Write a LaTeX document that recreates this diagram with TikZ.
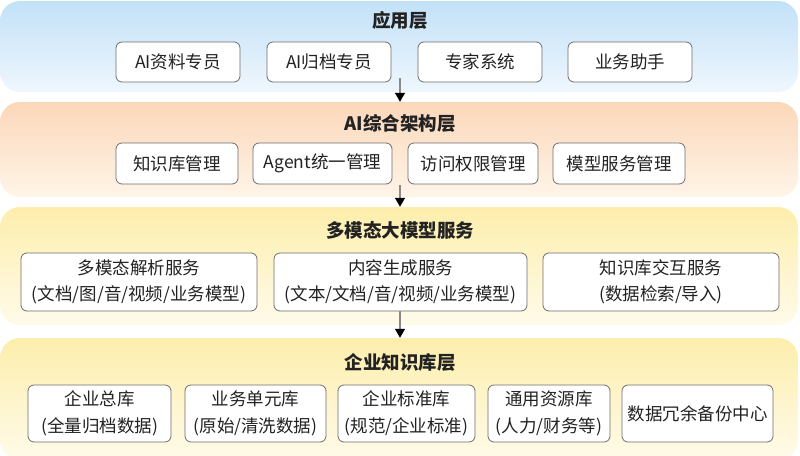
\documentclass[tikz,border=0pt]{standalone}
\usepackage{fontspec}
\setmainfont{Noto Sans CJK SC}
\usepackage{tikz}
\usetikzlibrary{arrows.meta}
\definecolor{ink}{HTML}{222222}
\definecolor{edge}{HTML}{6E6E6E}
\definecolor{arrowgrey}{HTML}{8A8A8A}
\definecolor{skytop}{HTML}{C2E1F8}
\definecolor{skybot}{HTML}{EFF7FD}
\definecolor{peachtop}{HTML}{FBD7BA}
\definecolor{peachbot}{HTML}{FFF5E8}
\definecolor{sandtop}{HTML}{FDEEAC}
\definecolor{sandbot}{HTML}{FFFBEA}

\begin{document}
\begin{tikzpicture}[x=1pt, y=-1pt,
      band/.style={rounded corners=20pt, minimum width=798pt, inner sep=0pt},
      head/.style={font=\fontsize{18.5}{22}\selectfont\bfseries, text=ink},
      item/.style={draw=edge, fill=white, rounded corners=6pt, line width=0.8pt,
                   font=\fontsize{17.5}{26.5}\selectfont, text=ink, align=center,
                   inner sep=0pt},
      a/.style={-{Triangle[length=9pt, width=10pt, color=black]},
                draw=arrowgrey, line width=1.2pt}]
    \useasboundingbox (0,0) rectangle (800,455);
    % layer bands
    \node[band, minimum height=91pt, top color=skytop, bottom color=skybot] (L1) at (399,46.5) {};
    \node[band, minimum height=95pt, top color=peachtop, bottom color=peachbot] (L2) at (399,149.5) {};
    \node[band, minimum height=118pt, top color=sandtop, bottom color=sandbot] (L3) at (399,266) {};
    \node[band, minimum height=122pt, top color=sandtop, bottom color=sandbot] (L4) at (399,399) {};
    % titles
    \node[head] (t1) at (400,20) {应用层};
    \node[head] (t2) at (400,123) {AI综合架构层};
    \node[head] (t3) at (400,230) {多模态大模型服务};
    \node[head] (t4) at (400,362) {企业知识库层};
    % application layer
    \node[item, minimum width=124pt, minimum height=40pt] (ap1) at (178,62) {AI资料专员};
    \node[item, minimum width=124pt, minimum height=40pt] (ap2) at (329,62) {AI归档专员};
    \node[item, minimum width=124pt, minimum height=40pt] (ap3) at (480,62) {专家系统};
    \node[item, minimum width=124pt, minimum height=40pt] (ap4) at (630,62) {业务助手};
    % AI architecture layer
    \node[item, minimum width=122pt, minimum height=41pt] (ar1) at (177,163.5) {知识库管理};
    \node[item, minimum width=139pt, minimum height=41pt] (ar2) at (322.5,163.5) {Agent统一管理};
    \node[item, minimum width=130pt, minimum height=41pt] (ar3) at (473,163.5) {访问权限管理};
    \node[item, minimum width=132pt, minimum height=41pt] (ar4) at (619,163.5) {模型服务管理};
    % model services
    \node[item, minimum width=236pt, minimum height=58pt] (ms1) at (139,282)
      {多模态解析服务\\(文档/图/音/视频/业务模型)};
    \node[item, minimum width=253pt, minimum height=58pt] (ms2) at (400.5,282)
      {内容生成服务\\(文本/文档/音/视频/业务模型)};
    \node[item, minimum width=236pt, minimum height=58pt] (ms3) at (661,282)
      {知识库交互服务\\(数据检索/导入)};
    % knowledge base layer
    \node[item, minimum width=143pt, minimum height=57pt] (kb1) at (99.5,413.5)
      {企业总库\\(全量归档数据)};
    \node[item, minimum width=141pt, minimum height=57pt] (kb2) at (255.5,413.5)
      {业务单元库\\(原始/清洗数据)};
    \node[item, minimum width=137pt, minimum height=57pt] (kb3) at (406.5,413.5)
      {企业标准库\\(规范/企业标准)};
    \node[item, minimum width=122pt, minimum height=57pt] (kb4) at (549,413.5)
      {通用资源库\\(人力/财务等)};
    \node[item, minimum width=151pt, minimum height=57pt] (kb5) at (697.5,413.5)
      {数据冗余备份中心};
    % flow between layers
    \draw[a] ([xshift=1pt, yshift=14pt]L1.south) -- ([xshift=1pt]L2.north);
    \draw[a] ([xshift=1pt, yshift=12pt]L2.south) -- ([xshift=1pt]L3.north);
    \draw[a] ([xshift=1pt, yshift=14pt]L3.south) -- ([xshift=1pt]L4.north);
  \end{tikzpicture}
\end{document}
